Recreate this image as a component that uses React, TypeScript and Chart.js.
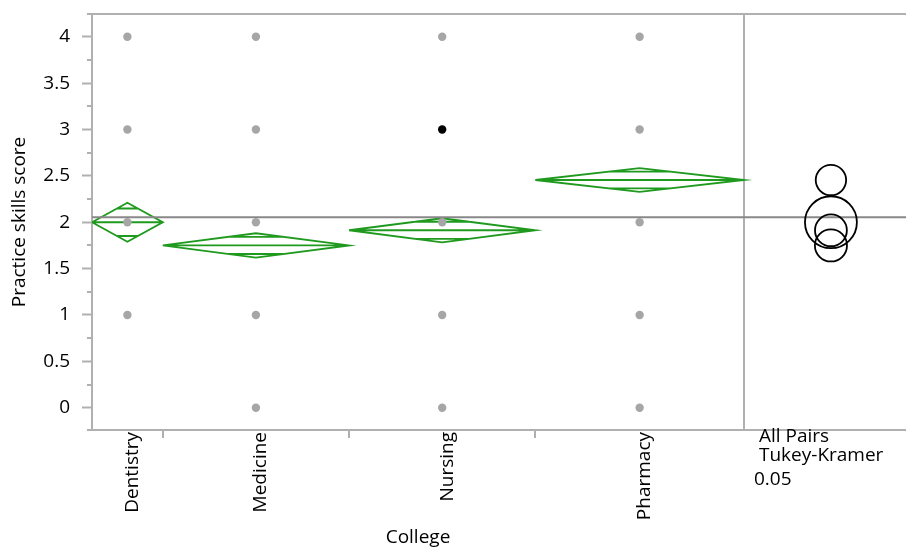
import React, { useEffect, useRef } from 'react';
import { Chart, registerables } from 'chart.js';

Chart.register(...registerables);

// ---------- data ----------
const categories = ['Dentistry', 'Medicine', 'Nursing', 'Pharmacy'];
const groupCounts = [19, 50, 50, 56];
const groupMeans = [2.0, 1.75, 1.913, 2.455];
const groupCIHalf = [0.21, 0.131, 0.13, 0.128];
const circleRadii = [0.28, 0.173, 0.172, 0.164];
const grandMean = 2.053;

const scoresDentistry = [1, 2, 3, 4];
const scoresMedicine = [0, 1, 2, 3, 4];
const scoresNursing = [0, 1, 2, 3, 4];
const scoresPharmacy = [0, 1, 2, 3, 4];
const groupScores = [scoresDentistry, scoresMedicine, scoresNursing, scoresPharmacy];
const highlightedGroup = 2;
const highlightedScore = 3;

const yTickValues = [0, 0.25, 0.5, 0.75, 1, 1.25, 1.5, 1.75, 2, 2.25, 2.5, 2.75, 3, 3.25, 3.5, 3.75, 4];
const yMajorValues = [0, 0.5, 1, 1.5, 2, 2.5, 3, 3.5, 4];
const yMajorLabels = ['0', '0.5', '1', '1.5', '2', '2.5', '3', '3.5', '4'];
const compareLabels = ['All Pairs', 'Tukey-Kramer', '0.05'];

const yAxisTitle = 'Practice skills score';
const xAxisTitle = 'College';

// ---------- layout constants ----------
const Y_MIN = -0.24;
const Y_MAX = 4.245;
const COMPARE_PANEL = 43.5; // width of comparison-circle panel in x units
const CIRCLE_OFFSET = 23.35;
const FONT = '"Open Sans", "Noto Sans", sans-serif';
const FONT_SIZE = 19;
const FRAME = '#b0b0b0';
const GREEN = '#1f9a1f';

const cum: number[] = [0];
groupCounts.forEach((n, i) => cum.push(cum[i] + n));
const totalCount = cum[cum.length - 1];
const centers = groupCounts.map((n, i) => cum[i] + n / 2);
const X_MAX = totalCount + COMPARE_PANEL;

const isMajor = (v: number) => yMajorValues.some((m) => Math.abs(m - v) < 1e-9);

function diamondData(g: number) {
  const l = cum[g];
  const r = cum[g + 1];
  const c = (l + r) / 2;
  const m = groupMeans[g];
  const h = groupCIHalf[g];
  const o = h / Math.SQRT2;
  const halfMark = ((r - l) / 2) * (1 - o / h);
  return [
    { x: l, y: m }, { x: c, y: m + h }, { x: r, y: m }, { x: c, y: m - h }, { x: l, y: m },
    { x: l, y: null },
    { x: l, y: m }, { x: r, y: m },
    { x: r, y: null },
    { x: c - halfMark, y: m + o }, { x: c + halfMark, y: m + o },
    { x: r, y: null },
    { x: c - halfMark, y: m - o }, { x: c + halfMark, y: m - o },
  ];
}

const stretchPlugin = {
  id: 'stretchRight',
  afterLayout(chart: any) {
    const x = chart.scales.x;
    const w = chart.width;
    if (chart.chartArea.right < w) {
      chart.chartArea.right = w;
      chart.chartArea.width = w - chart.chartArea.left;
      x.right = w;
      x.width = w - x.left;
      x.configure();
    }
  },
};

const framePlugin = {
  id: 'jmpFrame',
  beforeDatasetsDraw(chart: any) {
    const { ctx, chartArea, scales } = chart;
    const { left, right, top, bottom } = chartArea;
    const x = scales.x;
    const y = scales.y;
    const dx = Math.round(x.getPixelForValue(totalCount));
    ctx.save();
    ctx.strokeStyle = FRAME;
    ctx.lineWidth = 2;
    ctx.beginPath();
    ctx.moveTo(left - 5, top); ctx.lineTo(right, top);
    ctx.moveTo(left - 5, bottom); ctx.lineTo(right, bottom);
    ctx.moveTo(left, top); ctx.lineTo(left, bottom);
    ctx.moveTo(dx, top); ctx.lineTo(dx, bottom);
    for (let i = 1; i < groupCounts.length; i++) {
      const px = Math.round(x.getPixelForValue(cum[i]));
      ctx.moveTo(px, bottom); ctx.lineTo(px, bottom + 8);
    }
    yTickValues.forEach((v) => {
      if (!isMajor(v)) {
        const py = Math.round(y.getPixelForValue(v));
        ctx.moveTo(left - 5, py); ctx.lineTo(left, py);
      }
    });
    ctx.stroke();

    ctx.fillStyle = '#000';
    ctx.font = `${FONT_SIZE}px ${FONT}`;
    ctx.textBaseline = 'alphabetic';
    ctx.textAlign = 'center';
    ctx.fillText(xAxisTitle, (left + dx) / 2, chart.height - 4);
    ctx.textAlign = 'left';
    ctx.fillText(compareLabels[0], dx + 15, bottom + 12);
    ctx.fillText(compareLabels[1], dx + 15, bottom + 31);
    ctx.fillText(compareLabels[2], dx + 10, bottom + 55);

    ctx.save();
    ctx.translate(25, (top + bottom) / 2);
    ctx.rotate(-Math.PI / 2);
    ctx.textAlign = 'center';
    ctx.fillText(yAxisTitle, 0, 0);
    ctx.restore();
    ctx.restore();
  },
};

export default function App() {
  const canvasRef = useRef<HTMLCanvasElement | null>(null);

  useEffect(() => {
    if (!canvasRef.current) return;

    const pointData: any[] = [];
    groupScores.forEach((arr, g) => arr.forEach((v) => pointData.push({ x: centers[g], y: v, g })));

    const diamondSets = categories.map((c, g) => ({
      label: c + ' means diamond',
      data: diamondData(g),
      showLine: true,
      borderColor: GREEN,
      borderWidth: 1.9,
      borderJoinStyle: 'miter',
      pointRadius: 0,
      spanGaps: false,
      tension: 0,
      fill: false,
    }));

    const chart = new Chart(canvasRef.current, {
      type: 'scatter',
      data: {
        datasets: [
          {
            label: 'scores',
            data: pointData,
            pointRadius: 4.2,
            pointBorderWidth: 0,
            pointBackgroundColor: (ctx: any) =>
              ctx.raw && ctx.raw.g === highlightedGroup && ctx.raw.y === highlightedScore ? '#000000' : '#a6a6a6',
          } as any,
          {
            label: 'comparison circles',
            data: groupMeans.map((m, i) => ({ x: totalCount + CIRCLE_OFFSET, y: m, r: circleRadii[i] })),
            pointRadius: (ctx: any) => {
              const s = ctx.chart.scales.y;
              if (!ctx.raw || !s) return 0;
              return Math.abs(s.getPixelForValue(ctx.raw.y) - s.getPixelForValue(ctx.raw.y + ctx.raw.r));
            },
            pointBackgroundColor: 'rgba(0,0,0,0)',
            pointBorderColor: '#000',
            pointBorderWidth: 1.8,
            clip: false,
          } as any,
          {
            label: 'grand mean',
            data: [{ x: 0, y: grandMean }, { x: X_MAX, y: grandMean }],
            showLine: true,
            borderColor: '#888888',
            borderWidth: 2,
            pointRadius: 0,
          } as any,
          ...(diamondSets as any[]),
        ],
      },
      options: {
        animation: false,
        responsive: false,
        events: [],
        layout: { padding: { top: 14, left: 0, right: 0, bottom: 0 } },
        plugins: { legend: { display: false }, tooltip: { enabled: false } },
        scales: {
          x: {
            type: 'linear',
            min: 0,
            max: X_MAX,
            afterFit: (s: any) => {
              s.height = 117;
              s.paddingLeft = 0; s.paddingRight = 0; s.paddingTop = 0; s.paddingBottom = 0;
            },
            afterBuildTicks: (s: any) => { s.ticks = centers.map((v) => ({ value: v })); },
            grid: { display: false, drawTicks: false, tickLength: 0 },
            border: { display: false },
            ticks: {
              autoSkip: false,
              minRotation: 90,
              maxRotation: 90,
              padding: 2,
              labelOffset: 5,
              color: '#000',
              font: { family: FONT, size: FONT_SIZE },
              callback: (_v: any, i: number) => categories[i],
            },
          },
          y: {
            type: 'linear',
            min: Y_MIN,
            max: Y_MAX,
            afterFit: (s: any) => {
              s.width = 92;
              s.paddingLeft = 0; s.paddingRight = 0; s.paddingTop = 0; s.paddingBottom = 0;
            },
            afterBuildTicks: (s: any) => { s.ticks = yTickValues.map((v) => ({ value: v })); },
            grid: {
              drawOnChartArea: false,
              drawTicks: true,
              tickLength: 10,
              tickWidth: 2,
              tickColor: (ctx: any) => (ctx.tick && isMajor(ctx.tick.value) ? FRAME : 'rgba(0,0,0,0)'),
            },
            border: { display: false },
            ticks: {
              autoSkip: false,
              padding: 12,
              color: '#000',
              font: { family: FONT, size: FONT_SIZE },
              callback: (v: any) => {
                const idx = yMajorValues.findIndex((m) => Math.abs(m - Number(v)) < 1e-9);
                return idx >= 0 ? yMajorLabels[idx] : '';
              },
            },
          },
        },
      } as any,
      plugins: [stretchPlugin, framePlugin],
    });

    return () => chart.destroy();
  }, []);

  return (
    <div style={{ position: 'absolute', left: 0, top: 0, width: 906, height: 547, background: '#fff' }}>
      <canvas ref={canvasRef} width={906} height={547} style={{ display: 'block' }} />
    </div>
  );
}
